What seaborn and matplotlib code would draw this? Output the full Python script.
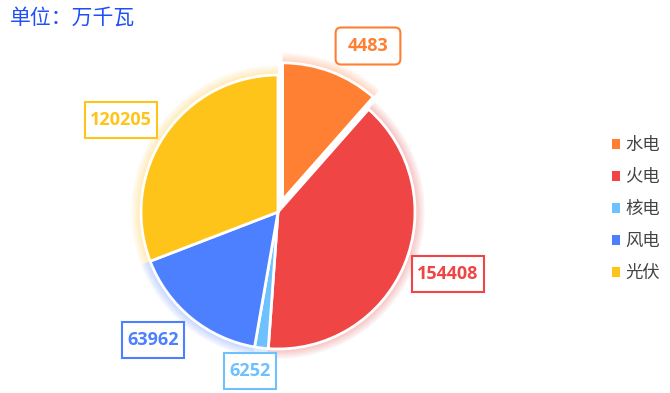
import matplotlib
matplotlib.use("Agg")
import matplotlib.pyplot as plt
from matplotlib.patches import Patch, BoxStyle
import seaborn as sns

categories = ["水电", "火电", "核电", "风电", "光伏"]
label_values = [4483, 154408, 6252, 63962, 120205]
# 扇区大小按图上角度读取（水电扇区约占 11.5%）
slice_values = [44830, 154408, 6252, 63962, 120205]
colors = ["#FF7F33", "#F04545", "#6EC1FF", "#4D80FF", "#FFC41A"]
# 数值标签框中心（像素，左上为原点）
label_pos = [(368, 46), (448, 274), (250, 371), (153, 340), (121, 120)]

sns.set_theme(style="white")
plt.rcParams["font.family"] = ["Noto Sans CJK SC", "DejaVu Sans"]

W, H = 670, 393
fig = plt.figure(figsize=(W / 100, H / 100), dpi=100)
ax = fig.add_axes([0, 0, 1, 1])

cx, cy, r = 278, H - 212, 137
explode = [13, 0, 0, 0, 0]

# ── 外发光 ──
for k in range(1, 11):
    ax.pie(slice_values, colors=colors, startangle=90, counterclock=False,
           radius=r + k, center=(cx, cy), explode=explode,
           wedgeprops=dict(alpha=0.035, linewidth=0))

wedges, texts = ax.pie(
    slice_values, colors=colors, startangle=90, counterclock=False,
    radius=r, center=(cx, cy), explode=explode,
    labels=[str(v) for v in label_values], labeldistance=1.3,
    wedgeprops=dict(edgecolor="white", linewidth=2),
)


def padded(base, padx, pady):
    """横竖方向不同留白的标签框"""
    def style(x0, y0, width, height, mutation_size):
        return base(x0 - padx, y0 - pady, width + 2 * padx,
                    height + 2 * pady, mutation_size)
    return style


for i, t in enumerate(texts):
    if i == 0:
        style = padded(BoxStyle.Round(pad=0, rounding_size=0.3), 12, 9.5)
    else:
        style = padded(BoxStyle.Square(pad=0), 5, 9)
    px, py = label_pos[i]
    t.set(position=(px, H - py), color=colors[i], fontsize=13,
          fontweight="bold", family="Open Sans", ha="center", va="center")
    t.set_bbox(dict(boxstyle=style, facecolor="white", edgecolor=colors[i],
                    linewidth=1.5))

ax.set_xlim(0, W)
ax.set_ylim(0, H)
ax.set_aspect("equal")
ax.axis("off")

fig.text(10 / W, 1 - 18 / H, "单位：万千瓦", color="#1E50F5",
         fontsize=15, va="center", ha="left")

handles = [Patch(facecolor=c, edgecolor="none") for c in colors]
ax.legend(handles, categories, loc="center left",
          bbox_to_anchor=(596 / W, 1 - 209 / H), frameon=False,
          handlelength=0.5, handleheight=0.5, handletextpad=0.3,
          labelspacing=0.8, fontsize=12.5, labelcolor="#444444")

fig.savefig("out.png", dpi=100)
